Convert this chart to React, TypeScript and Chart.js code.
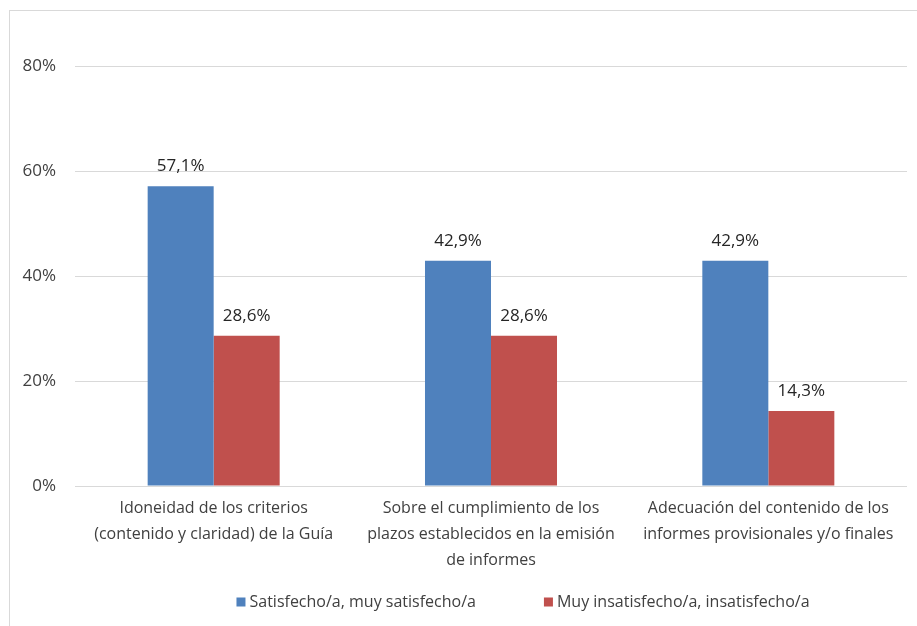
import React, { useEffect, useRef } from "react";
import { Chart, registerables } from "chart.js";

Chart.register(...registerables);

const categories: string[][] = [
  ["Idoneidad de los criterios", "(contenido y claridad) de la Guía"],
  ["Sobre el cumplimiento de los", "plazos establecidos en la emisión", "de informes"],
  ["Adecuación del contenido de los", "informes provisionales y/o finales"],
];
const seriesNames = ["Satisfecho/a, muy satisfecho/a", "Muy insatisfecho/a, insatisfecho/a"];
const satisfied = [0.571, 0.429, 0.429];
const unsatisfied = [0.286, 0.286, 0.143];
const yTicks = [0, 0.2, 0.4, 0.6, 0.8];
const colors = ["#4f81bd", "#c0504d"];

const FONT = "'Open Sans', Lato, sans-serif";

const fmt = (v: number) => (v * 100).toFixed(1).replace(".", ",") + "%";

const dataLabels = {
  id: "dataLabels",
  afterDatasetsDraw(chart: any) {
    const ctx = chart.ctx;
    ctx.save();
    ctx.font = `17px ${FONT}`;
    ctx.fillStyle = "#262626";
    ctx.textAlign = "center";
    ctx.textBaseline = "middle";
    chart.data.datasets.forEach((ds: any, i: number) => {
      const meta = chart.getDatasetMeta(i);
      meta.data.forEach((bar: any, j: number) => {
        ctx.fillText(fmt(ds.data[j]), bar.x, bar.y - 20);
      });
    });
    ctx.restore();
  },
};

const customLegend = {
  id: "customLegend",
  afterDraw(chart: any) {
    const ctx = chart.ctx;
    ctx.save();
    ctx.font = `16px ${FONT}`;
    ctx.textBaseline = "middle";
    ctx.textAlign = "left";
    const box = 9, gap = 4, spacing = 68;
    const widths = chart.data.datasets.map((d: any) => ctx.measureText(d.label).width);
    const total = widths.reduce((a: number, w: number) => a + box + gap + w, 0) + spacing * (widths.length - 1);
    const cx = 513;
    const y = 591;
    let x = cx - total / 2;
    chart.data.datasets.forEach((d: any, i: number) => {
      ctx.fillStyle = d.backgroundColor;
      ctx.fillRect(x, y - box / 2, box, box);
      x += box + gap;
      ctx.fillStyle = "#404040";
      ctx.fillText(d.label, x, y);
      x += widths[i] + spacing;
    });
    ctx.restore();
  },
};

export default function App() {
  const ref = useRef<HTMLCanvasElement>(null);
  useEffect(() => {
    const chart = new Chart(ref.current!, {
      type: "bar",
      data: {
        labels: categories,
        datasets: [
          { label: seriesNames[0], data: satisfied, backgroundColor: colors[0] },
          { label: seriesNames[1], data: unsatisfied, backgroundColor: colors[1] },
        ],
      },
      options: {
        animation: false,
        responsive: false,
        maintainAspectRatio: false,
        layout: { padding: { left: 0, top: 55, right: 18, bottom: 46 } },
        datasets: { bar: { categoryPercentage: 0.476, barPercentage: 1 } },
        plugins: {
          tooltip: { enabled: false },
          legend: { display: false },
        },
        scales: {
          x: {
            grid: { display: false },
            border: { display: false },
            ticks: {
              color: "#404040",
              font: { family: FONT, size: 16, lineHeight: 1.6 },
              padding: 2,
              maxRotation: 0,
              autoSkip: false,
            },
            afterFit: (s: any) => { s.height = 99; },
          },
          y: {
            min: 0,
            max: 0.8,
            afterBuildTicks: (s: any) => { s.ticks = yTicks.map((v) => ({ value: v })); },
            grid: { color: "#d9d9d9", drawTicks: false },
            border: { display: false },
            ticks: {
              color: "#404040",
              font: { family: FONT, size: 17 },
              padding: 19,
              callback: (v: any) => Math.round(Number(v) * 100) + "%",
            },
            afterFit: (s: any) => { s.width = 65; },
          },
        },
      },
      plugins: [dataLabels, customLegend],
    } as any);
    return () => chart.destroy();
  }, []);
  return (
    <div
      style={{
        position: "fixed",
        left: 9,
        top: 10,
        width: 915,
        height: 620,
        border: "1px solid #d9d9d9",
        background: "#fff",
      }}
    >
      <canvas ref={ref} width={915} height={620} style={{ display: "block", width: 915, height: 620 }} />
    </div>
  );
}
